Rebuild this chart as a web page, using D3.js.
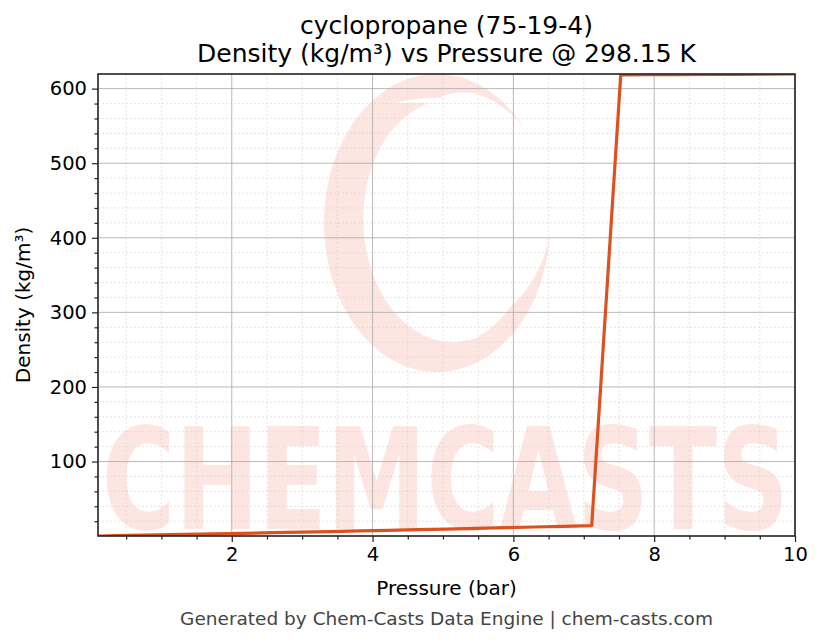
<!DOCTYPE html>
<html>
<head>
<meta charset="utf-8">
<script src="https://cdn.jsdelivr.net/npm/d3@7"></script>
<style>
  html, body { margin: 0; padding: 0; background: #ffffff; }
  svg { display: block; }
  text { font-family: "DejaVu Sans", sans-serif; }
</style>
</head>
<body>
<svg id="chart" width="823" height="644"></svg>
<script>
// ---- data ----
const pressure = [0.1, 0.5125, 0.925, 1.3375, 1.75, 2.1625, 2.575, 2.9875, 3.4, 3.8125,
  4.225, 4.6375, 5.05, 5.4625, 5.875, 6.2875, 6.7, 7.1125,
  7.525, 7.9375, 8.35, 8.7625, 9.175, 9.5875, 10.0];
const density = [0.17, 0.88, 1.60, 2.33, 3.07, 3.82, 4.59, 5.37, 6.16, 6.97,
  7.80, 8.64, 9.51, 10.39, 11.30, 12.24, 13.20, 14.1,
  618.4, 618.6, 618.8, 619.0, 619.2, 619.4, 619.6];
const xTicks = [2, 4, 6, 8, 10];
const yTicks = [100, 200, 300, 400, 500, 600];
const titleLines = ["cyclopropane (75-19-4)", "Density (kg/m\u00b3) vs Pressure @ 298.15 K"];
const xLabel = "Pressure (bar)";
const yLabel = "Density (kg/m\u00b3)";
const footer = "Generated by Chem-Casts Data Engine | chem-casts.com";
const watermarkText = "CHEMCASTS";

// ---- layout ----
const L = 98, R = 795, T = 74, B = 536;
const svg = d3.select("#chart");

const x = d3.scaleLinear().domain([d3.min(pressure), d3.max(pressure)]).range([L, R]);
const y = d3.scaleLinear().domain([d3.min(density), d3.max(density)]).range([B, T]);

const xMinor = d3.range(0.5, 10.01, 0.5).filter(v => v >= x.domain()[0] && !xTicks.includes(v));
const yMinor = d3.range(20, 620, 20).filter(v => v <= y.domain()[1] && !yTicks.includes(v));

// clip
svg.append("defs").append("clipPath").attr("id", "plotclip")
  .append("rect").attr("x", L).attr("y", T).attr("width", R - L).attr("height", B - T);

const wm = svg.append("g");
const wmColor = "#fde5e1";

// swirl logo (decorative watermark)
(function () {
  const cx = 437, cy = 223;
  const outer = [], inner = [];
  const a0 = 40, a1 = 355;
  const n = 120;
  for (let i = 0; i <= n; i++) {
    const t = i / n;
    const a = (a0 + (a1 - a0) * t) * Math.PI / 180;
    const rxO = 113, ryO = 149;
    const thick = 0.28;
    const taper = Math.min(1, t / 0.18, (1 - t) / 0.12);
    const side = 0.55 + 0.45 * Math.max(0, -Math.cos(a) * 0.8 + 0.3);
    const th = thick * Math.max(0, taper) * side;
    const ox = cx + rxO * Math.cos(a), oy = cy - ryO * Math.sin(a);
    const ix = cx + rxO * (1 - th) * Math.cos(a) + 10 * th / thick * 0.6,
          iy = cy - ryO * (1 - th) * Math.sin(a) - 6 * th / thick * 0.6;
    outer.push([ox, oy]);
    inner.push([ix, iy]);
  }
  const pts = outer.concat(inner.reverse());
  wm.append("path")
    .attr("d", d3.line().curve(d3.curveCatmullRomClosed)(pts))
    .attr("fill", wmColor);
  wm.append("path")
    .attr("d", "M395,103 C450,88 520,108 545,150 C515,118 460,100 395,103 Z")
    .attr("fill", "#fff");
})();

wm.append("text")
  .attr("x", L + 4).attr("y", 529)
  .attr("font-size", 140).attr("font-weight", "bold")
  .attr("font-family", "'DejaVu Serif', serif")
  .attr("textLength", R - L - 10).attr("lengthAdjust", "spacingAndGlyphs")
  .attr("fill", wmColor)
  .text(watermarkText);

// ---- grid ----
const grid = svg.append("g");
grid.selectAll(".xmin").data(xMinor).join("line")
  .attr("x1", d => x(d)).attr("x2", d => x(d)).attr("y1", T).attr("y2", B)
  .attr("stroke", "#d4d4d4").attr("stroke-width", 0.6).attr("stroke-dasharray", "2,2");
grid.selectAll(".ymin").data(yMinor).join("line")
  .attr("x1", L).attr("x2", R).attr("y1", d => y(d)).attr("y2", d => y(d))
  .attr("stroke", "#d4d4d4").attr("stroke-width", 0.6).attr("stroke-dasharray", "2,2");
grid.selectAll(".xmaj").data(xTicks).join("line")
  .attr("x1", d => x(d)).attr("x2", d => x(d)).attr("y1", T).attr("y2", B)
  .attr("stroke", "#b0b0b0").attr("stroke-width", 0.9);
grid.selectAll(".ymaj").data(yTicks).join("line")
  .attr("x1", L).attr("x2", R).attr("y1", d => y(d)).attr("y2", d => y(d))
  .attr("stroke", "#b0b0b0").attr("stroke-width", 0.9);

// ---- data line ----
svg.append("g").attr("clip-path", "url(#plotclip)")
  .append("path")
  .datum(pressure.map((p, i) => [p, density[i]]))
  .attr("d", d3.line().x(d => x(d[0])).y(d => y(d[1])))
  .attr("fill", "none").attr("stroke", "#db5220").attr("stroke-width", 3.2)
  .attr("stroke-linejoin", "round");

// ---- axes ----
const xAxis = svg.append("g").attr("transform", `translate(0,${B})`)
  .call(d3.axisBottom(x).tickValues(xTicks).tickFormat(d3.format("d")).tickSize(6).tickPadding(5));
const xAxisMinor = svg.append("g").attr("transform", `translate(0,${B})`)
  .call(d3.axisBottom(x).tickValues(xMinor).tickSize(3.5));
const yAxis = svg.append("g").attr("transform", `translate(${L},0)`)
  .call(d3.axisLeft(y).tickValues(yTicks).tickFormat(d3.format("d")).tickSize(6).tickPadding(5));
const yAxisMinor = svg.append("g").attr("transform", `translate(${L},0)`)
  .call(d3.axisLeft(y).tickValues(yMinor).tickSize(3.5));

xAxisMinor.selectAll(".tick text").remove();
yAxisMinor.selectAll(".tick text").remove();

[xAxis, xAxisMinor, yAxis, yAxisMinor].forEach(g => {
  g.select(".domain").remove();
  g.selectAll(".tick line").attr("stroke", "#222").attr("stroke-width", 1.2);
  g.selectAll(".tick text").attr("fill", "#000").attr("font-size", 19.5)
    .attr("font-family", "'DejaVu Sans', sans-serif");
});

// frame
svg.append("rect").attr("x", L).attr("y", T).attr("width", R - L).attr("height", B - T)
  .attr("fill", "none").attr("stroke", "#222").attr("stroke-width", 1.6);

// ---- text ----
svg.append("text").attr("x", (L + R) / 2).attr("y", 34).attr("text-anchor", "middle")
  .attr("font-size", 25).attr("fill", "#000").text(titleLines[0]);
svg.append("text").attr("x", (L + R) / 2).attr("y", 62).attr("text-anchor", "middle")
  .attr("font-size", 25).attr("fill", "#000").text(titleLines[1]);

svg.append("text").attr("x", (L + R) / 2).attr("y", 595).attr("text-anchor", "middle")
  .attr("font-size", 20).attr("fill", "#000").text(xLabel);

svg.append("text").attr("transform", `translate(30,${(T + B) / 2}) rotate(-90)`)
  .attr("text-anchor", "middle").attr("font-size", 20).attr("fill", "#000").text(yLabel);

svg.append("text").attr("x", (L + R) / 2).attr("y", 625).attr("text-anchor", "middle")
  .attr("font-size", 18.5).attr("fill", "#444").text(footer);
</script>
</body>
</html>
